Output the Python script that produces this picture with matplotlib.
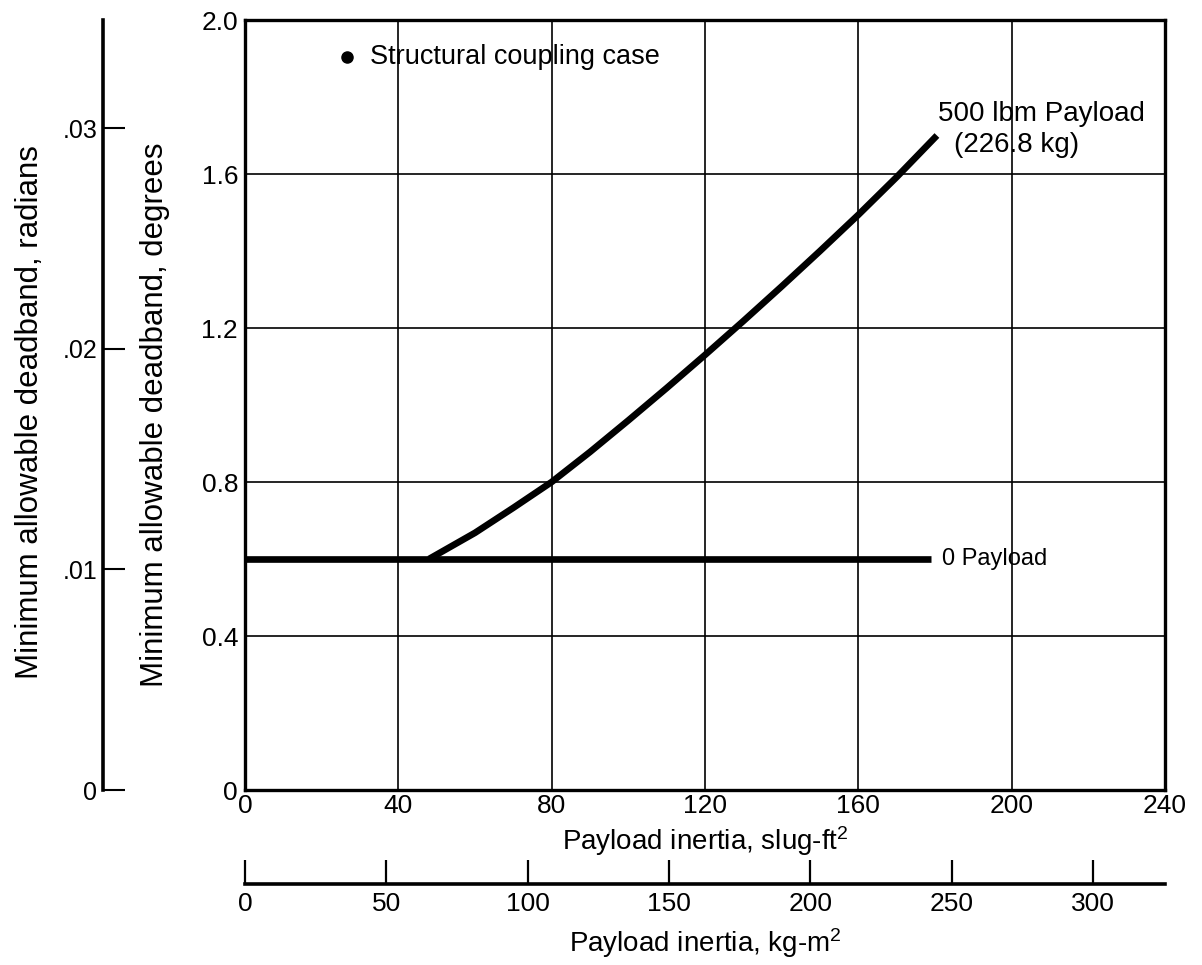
import numpy as np
import matplotlib
matplotlib.use("Agg")
import matplotlib.pyplot as plt

plt.rcParams['font.family'] = ['Liberation Sans', 'DejaVu Sans']
plt.rcParams['mathtext.fontset'] = 'custom'
plt.rcParams['mathtext.rm'] = 'Liberation Sans'
plt.rcParams['mathtext.it'] = 'Liberation Sans'

# ---- data ----
payload500_x = [48, 60, 70, 80, 90, 100, 110, 120, 130, 140, 150, 160, 170, 180.5]  # slug-ft^2
payload500_y = [0.60, 0.668, 0.733, 0.80, 0.878, 0.96, 1.044, 1.13, 1.218, 1.308,
                1.40, 1.494, 1.592, 1.70]  # deg
payload0_x = [0, 179]
payload0_y = [0.60, 0.60]

x_ticks = [0, 40, 80, 120, 160, 200, 240]
y_ticks = [0, 0.4, 0.8, 1.2, 1.6, 2.0]
y_ticklabels = ['0', '0.4', '0.8', '1.2', '1.6', '2.0']
rad_ticks = [0, 0.01, 0.02, 0.03]
rad_ticklabels = ['0', '.01', '.02', '.03']
kg_ticks = [0, 50, 100, 150, 200, 250, 300]

SLUGFT2_TO_KGM2 = 1.35582
DEG_TO_RAD = np.pi / 180

W, H = 1202, 965
fig = plt.figure(figsize=(W / 100, H / 100), dpi=100)

L, R, T, B = 245, 1165, 20, 790
ax = fig.add_axes([L / W, 1 - B / H, (R - L) / W, (B - T) / H])
ax.set_xlim(0, 240)
ax.set_ylim(0, 2.0)
ax.set_xticks(x_ticks)
ax.set_yticks(y_ticks)
ax.set_yticklabels(y_ticklabels)
ax.tick_params(length=0, labelsize=19)
ax.tick_params(axis='x', pad=3)
ax.tick_params(axis='y', pad=5)
ax.grid(True, color='black', linewidth=1.2)
for s in ax.spines.values():
    s.set_linewidth(2.4)

ax.plot(payload0_x, payload0_y, color='black', lw=4.8, solid_capstyle='butt')
ax.plot(payload500_x, payload500_y, color='black', lw=4.8, solid_capstyle='butt',
        solid_joinstyle='round')

ax.set_xlabel('Payload inertia, slug-ft$^{2}$', fontsize=20, labelpad=4)
ax.set_ylabel('Minimum allowable deadband, degrees', fontsize=22.5)
ax.yaxis.set_label_coords(-0.082, (B - 415) / (B - T))

ax.text(181.8, 0.60, '0 Payload', fontsize=17, va='center', ha='left')
ax.text(180.8, 1.756, '500 lbm Payload', fontsize=20, va='center', ha='left')
ax.text(185, 1.675, '(226.8 kg)', fontsize=20, va='center', ha='left')
ax.plot([26.5], [1.905], 'o', color='black', ms=8)
ax.text(32.5, 1.905, 'Structural coupling case', fontsize=19.5, va='center', ha='left')

# radians axis
xr = 103
axr = fig.add_axes([xr / W, 1 - B / H, 0.001, (B - T) / H])
axr.set_ylim(0, 2.0 * DEG_TO_RAD)
axr.set_xticks([])
for k in ['top', 'right', 'bottom']:
    axr.spines[k].set_visible(False)
axr.spines['left'].set_linewidth(2.6)
axr.patch.set_visible(False)
axr.set_yticks(rad_ticks)
axr.set_yticklabels(rad_ticklabels)
axr.tick_params(axis='y', direction='in', length=16, width=1.5, labelsize=18, pad=4)
fig.text(30 / W, 1 - 412 / H, 'Minimum allowable deadband, radians', rotation=90,
         fontsize=22.5, ha='center', va='center')

# kg-m2 axis
yk = 884
axk = fig.add_axes([L / W, 1 - yk / H, (R - L) / W, 0.001])
axk.set_xlim(0, 240 * SLUGFT2_TO_KGM2)
axk.set_yticks([])
for k in ['top', 'right', 'left']:
    axk.spines[k].set_visible(False)
axk.spines['bottom'].set_linewidth(2.6)
axk.patch.set_visible(False)
axk.set_xticks(kg_ticks)
axk.tick_params(axis='x', direction='in', length=17, width=1.6, labelsize=19, pad=6)
axk.set_xlabel('Payload inertia, kg-m$^{2}$', fontsize=20, labelpad=7)

fig.savefig('out.png', dpi=100)
